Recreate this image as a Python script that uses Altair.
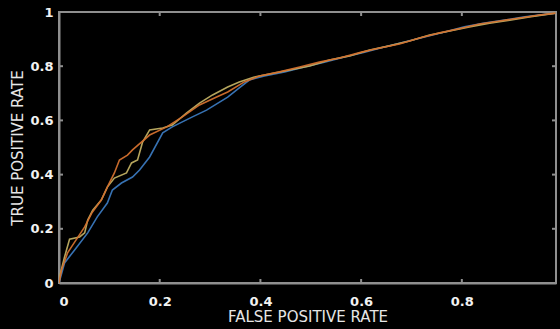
import altair as alt
import pandas as pd
import jinja2

# ROC curves (false positive rate, true positive rate)
blue_fpr = [0, 0.011, 0.031, 0.057, 0.076, 0.096, 0.106, 0.124, 0.146, 0.160, 0.180, 0.206, 0.225, 0.265, 0.293, 0.335, 0.358, 0.378, 0.408, 0.448, 0.487, 0.527, 0.567, 0.607, 0.646, 0.686, 0.726, 0.766, 0.805, 0.845, 0.885, 0.925, 0.986]
blue_tpr = [0, 0.074, 0.122, 0.185, 0.244, 0.295, 0.343, 0.369, 0.391, 0.417, 0.465, 0.554, 0.576, 0.613, 0.638, 0.686, 0.720, 0.749, 0.764, 0.779, 0.797, 0.815, 0.834, 0.852, 0.871, 0.889, 0.908, 0.926, 0.945, 0.959, 0.970, 0.982, 0.996]

yellow_fpr = [0, 0.001, 0.011, 0.021, 0.041, 0.051, 0.057, 0.067, 0.084, 0.096, 0.110, 0.134, 0.144, 0.156, 0.166, 0.180, 0.206, 0.225, 0.253, 0.279, 0.305, 0.335, 0.358, 0.388, 0.418, 0.458, 0.498, 0.537, 0.577, 0.617, 0.656, 0.696, 0.736, 0.776, 0.815, 0.855, 0.895, 0.934, 0.986]
yellow_tpr = [0, 0.022, 0.096, 0.162, 0.170, 0.185, 0.232, 0.269, 0.306, 0.354, 0.387, 0.406, 0.443, 0.454, 0.520, 0.565, 0.572, 0.583, 0.627, 0.664, 0.694, 0.723, 0.742, 0.760, 0.771, 0.786, 0.801, 0.823, 0.838, 0.860, 0.875, 0.893, 0.915, 0.930, 0.945, 0.959, 0.970, 0.982, 0.996]

orange_fpr = [0, 0.005, 0.017, 0.031, 0.051, 0.065, 0.084, 0.096, 0.110, 0.120, 0.136, 0.146, 0.180, 0.214, 0.245, 0.279, 0.313, 0.335, 0.368, 0.398, 0.438, 0.478, 0.517, 0.557, 0.601, 0.637, 0.676, 0.716, 0.756, 0.801, 0.835, 0.875, 0.915, 0.954, 0.986]
orange_tpr = [0, 0.048, 0.111, 0.151, 0.207, 0.258, 0.306, 0.354, 0.406, 0.454, 0.472, 0.491, 0.546, 0.576, 0.613, 0.657, 0.686, 0.705, 0.742, 0.764, 0.779, 0.797, 0.815, 0.830, 0.852, 0.867, 0.882, 0.904, 0.923, 0.941, 0.956, 0.967, 0.978, 0.989, 0.996]

x_ticks = [0, 0.2, 0.4, 0.6, 0.8]
y_ticks = [0, 0.2, 0.4, 0.6, 0.8, 1]

W, H = 497, 271
XMAX = 0.987
FRAME = "#8f8f8f"

xscale = alt.Scale(domain=[0, XMAX], nice=False, zero=False)
yscale = alt.Scale(domain=[0, 1], nice=False)

xaxis = alt.Axis(values=x_ticks, format=".1~f", title="FALSE POSITIVE RATE",
                 ticks=False, grid=False, domainColor=FRAME, domainWidth=2,
                 labelPadding=12, titlePadding=1)
yaxis = alt.Axis(values=y_ticks, format=".1~f", title="TRUE POSITIVE RATE",
                 ticks=False, grid=False, domainColor=FRAME, domainWidth=2,
                 labelPadding=6, titlePadding=4)


def curve(fpr, tpr, color):
    df = pd.DataFrame({"fpr": fpr, "tpr": tpr, "i": range(len(fpr))})
    return alt.Chart(df).mark_line(color=color, strokeWidth=1.6, clip=True, opacity=0.95).encode(
        x=alt.X("fpr:Q", scale=xscale, axis=xaxis),
        y=alt.Y("tpr:Q", scale=yscale, axis=yaxis),
        order="i:Q",
    )


xt = pd.DataFrame({"fpr": x_ticks[1:]})
yt = pd.DataFrame({"tpr": y_ticks[1:-1]})
tick_style = dict(color=FRAME, strokeWidth=2)
bottom_ticks = alt.Chart(xt).mark_rule(**tick_style).encode(
    x=alt.X("fpr:Q", scale=xscale, axis=xaxis), y=alt.value(H), y2=alt.value(H - 4))
top_ticks = alt.Chart(xt).mark_rule(**tick_style).encode(
    x=alt.X("fpr:Q", scale=xscale, axis=xaxis), y=alt.value(0), y2=alt.value(4))
left_ticks = alt.Chart(yt).mark_rule(**tick_style).encode(
    y=alt.Y("tpr:Q", scale=yscale, axis=yaxis), x=alt.value(0), x2=alt.value(4))
right_ticks = alt.Chart(yt).mark_rule(**tick_style).encode(
    y=alt.Y("tpr:Q", scale=yscale, axis=yaxis), x=alt.value(W), x2=alt.value(W - 4))

chart = alt.layer(
    curve(blue_fpr, blue_tpr, "#3a78bd"),
    curve(yellow_fpr, yellow_tpr, "#bfae62"),
    curve(orange_fpr, orange_tpr, "#d2702e"),
    bottom_ticks, top_ticks, left_ticks, right_ticks,
).properties(
    width=W, height=H,
    autosize=alt.AutoSizeParams(type="none"),
    padding={"left": 59, "top": 12, "right": 4, "bottom": 46},
).configure(
    background="black",
).configure_view(
    stroke=FRAME, strokeWidth=2, fill="black",
).configure_axis(
    labelColor="#f2f2f2", labelFont="DejaVu Sans", labelFontSize=13, labelFontWeight="bold",
    titleColor="#e6e6e6", titleFont="DejaVu Sans", titleFontSize=15, titleFontWeight="normal",
)

PAGE = jinja2.Template("""<!DOCTYPE html>
<html>
<head>
  <style>html, body { background: #000; margin: 0; padding: 0; overflow: hidden; }</style>
  <script type="text/javascript" src="{{ base_url }}/vega@{{ vega_version }}"></script>
  <script type="text/javascript" src="{{ base_url }}/vega-lite@{{ vegalite_version }}"></script>
  <script type="text/javascript" src="{{ base_url }}/vega-embed@{{ vegaembed_version }}"></script>
</head>
<body>
<div id="{{ output_div }}"></div>
<script>
  (function(vegaEmbed) {
    var spec = {{ spec }};
    var embedOpt = {{ embed_options }};
    vegaEmbed("#{{ output_div }}", spec, embedOpt).catch(function(e) {
      document.getElementById("{{ output_div }}").innerHTML = '<pre style="color:red">' + e + '</pre>';
    });
  })(vegaEmbed);
</script>
</body>
</html>
""")

chart.save("out.html", embed_options={"renderer": "svg", "actions": False}, template=PAGE)
